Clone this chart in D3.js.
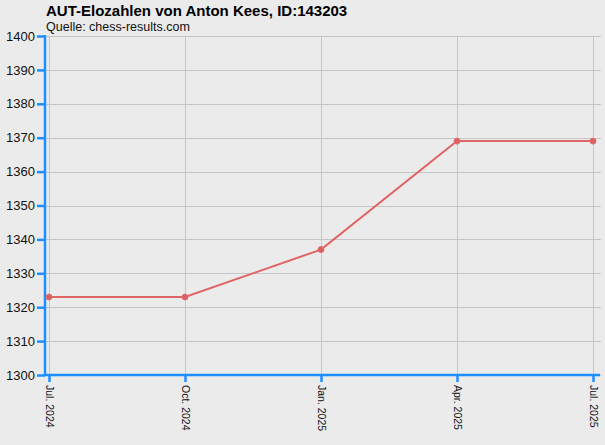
<!DOCTYPE html>
<html>
<head>
<meta charset="utf-8">
<script src="https://cdn.jsdelivr.net/npm/d3@7"></script>
<style>
  body { margin: 0; background: #ebebeb; }
  svg { display: block; font-family: "Liberation Sans", Arial, sans-serif; }
</style>
</head>
<body>
<div id="chart"></div>
<script>
// chart data
const months = ['Jul. 2024', 'Oct. 2024', 'Jan. 2025', 'Apr. 2025', 'Jul. 2025'];
const elo = [1323, 1323, 1337, 1369, 1369];
const yTicks = [1300, 1310, 1320, 1330, 1340, 1350, 1360, 1370, 1380, 1390, 1400];

const width = 605;
const height = 445;

const svg = d3.select('#chart')
    .append('svg')
    .attr('width', width)
    .attr('height', height);

svg.append('rect')
    .attr('width', width)
    .attr('height', height)
    .attr('fill', '#ebebeb');

// scales
const x = d3.scalePoint().domain(months).range([49, 593]);
const y = d3.scaleLinear().domain([1300, 1400]).range([375, 36]);

const axisLeftX = 45;
const gridRight = 601;

// horizontal grid
svg.append('g')
    .selectAll('line')
    .data(yTicks)
    .join('line')
    .attr('x1', axisLeftX)
    .attr('x2', gridRight)
    .attr('y1', d => Math.round(y(d)) + 0.5)
    .attr('y2', d => Math.round(y(d)) + 0.5)
    .attr('stroke', '#c6c6c6')
    .attr('stroke-width', 1);

// vertical grid
svg.append('g')
    .selectAll('line')
    .data(months)
    .join('line')
    .attr('x1', d => Math.round(x(d)) + 0.5)
    .attr('x2', d => Math.round(x(d)) + 0.5)
    .attr('y1', y(1400))
    .attr('y2', y(1300))
    .attr('stroke', '#c6c6c6')
    .attr('stroke-width', 1);

// y axis
const yAxis = svg.append('g')
    .attr('transform', 'translate(' + axisLeftX + ',0)')
    .call(d3.axisLeft(y).tickValues(yTicks).tickSize(8).tickPadding(2).tickFormat(d3.format('d')));
yAxis.select('.domain').remove();
yAxis.selectAll('.tick line').attr('stroke', '#1e8fff').attr('stroke-width', 2.5);
yAxis.selectAll('.tick text')
    .attr('fill', '#111')
    .style('font-size', '13px');
yAxis.append('line')
    .attr('x1', 0).attr('x2', 0)
    .attr('y1', y(1400) - 1).attr('y2', y(1300) + 1)
    .attr('stroke', '#1e8fff')
    .attr('stroke-width', 2.5);

// x axis
const xAxis = svg.append('g')
    .attr('transform', 'translate(0,' + y(1300) + ')')
    .call(d3.axisBottom(x).tickSize(7).tickPadding(0));
xAxis.select('.domain').remove();
xAxis.selectAll('.tick line').attr('stroke', '#1e8fff').attr('stroke-width', 2.5);
xAxis.selectAll('.tick text')
    .attr('fill', '#111')
    .style('font-size', '10.5px')
    .attr('text-anchor', 'start')
    .attr('dy', '0.35em')
    .attr('transform', 'translate(0,10) rotate(90)')
    .attr('y', 0)
    .attr('x', 0);
xAxis.append('line')
    .attr('x1', axisLeftX - 1).attr('x2', gridRight - 1)
    .attr('y1', 0).attr('y2', 0)
    .attr('stroke', '#1e8fff')
    .attr('stroke-width', 2.5);

// elo line
const line = d3.line()
    .x((d, i) => x(months[i]))
    .y(d => y(d));

svg.append('path')
    .datum(elo)
    .attr('d', line)
    .attr('fill', 'none')
    .attr('stroke', '#e06464')
    .attr('stroke-width', 2);

svg.append('g')
    .selectAll('circle')
    .data(elo)
    .join('circle')
    .attr('cx', (d, i) => x(months[i]))
    .attr('cy', d => y(d))
    .attr('r', 3)
    .attr('fill', '#db6060')
    .attr('stroke', '#e07070')
    .attr('stroke-width', 1);

// titles
svg.append('text')
    .attr('x', 46)
    .attr('y', 16)
    .style('font-size', '15px')
    .style('font-weight', 'bold')
    .attr('fill', '#000')
    .text('AUT-Elozahlen von Anton Kees, ID:143203');

svg.append('text')
    .attr('x', 46)
    .attr('y', 31)
    .style('font-size', '12.5px')
    .attr('fill', '#111')
    .text('Quelle: chess-results.com');
</script>
</body>
</html>
